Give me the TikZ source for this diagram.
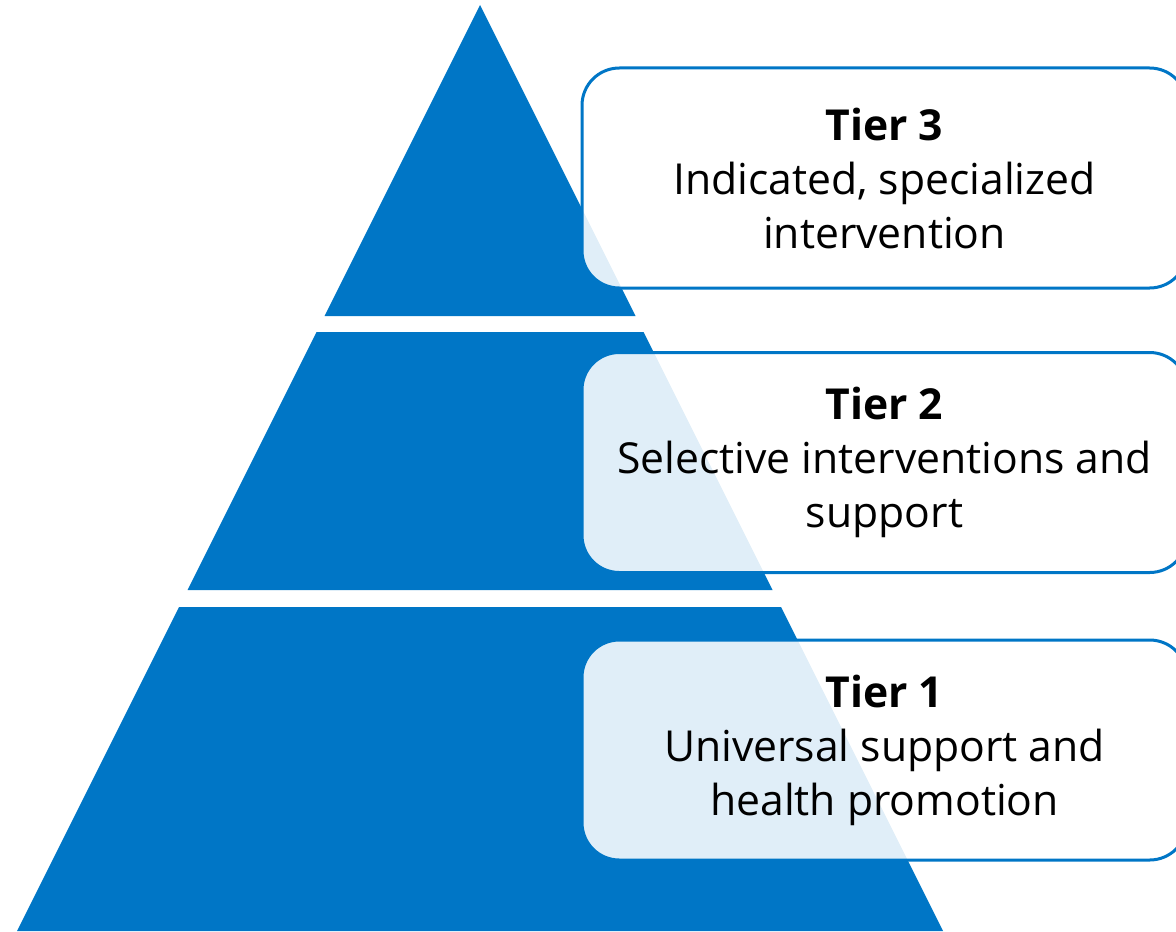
\documentclass[tikz,border=0pt]{standalone}
\usepackage{fontspec}
\setmainfont{Open Sans}
\definecolor{tierblue}{RGB}{0,118,198}
\begin{document}
\begin{tikzpicture}[x=0.75pt, y=-0.75pt,
	tierbox/.style={draw=tierblue, line width=2.25pt, rectangle, rounded corners=28pt,
		fill=white, fill opacity=0.88, text opacity=1, align=center,
		minimum width=453.75pt, minimum height=165pt,
		font=\fontsize{32}{40.5}\selectfont}]
	\clip (0,0) rectangle (1176,931);
	% pyramid bands
	\fill [tierblue] (480,5) -- (635.5,316) -- (324.5,316) -- cycle;
	\fill [tierblue] (316.5,332) -- (643.5,332) -- (772.5,590) -- (187.5,590) -- cycle;
	\fill [tierblue] (179,607) -- (781,607) -- (943,931) -- (17,931) -- cycle;
	% labels
	\node [tierbox] (tier3) at (884.5,178) {\textbf{Tier 3}\\Indicated, specialized\\intervention};
	\node [tierbox] (tier2) at (884.5,462.5) {\textbf{Tier 2}\\Selective interventions and\\support};
	\node [tierbox] (tier1) at (884.5,750) {\textbf{Tier 1}\\Universal support and\\health promotion};
\end{tikzpicture}
\end{document}
